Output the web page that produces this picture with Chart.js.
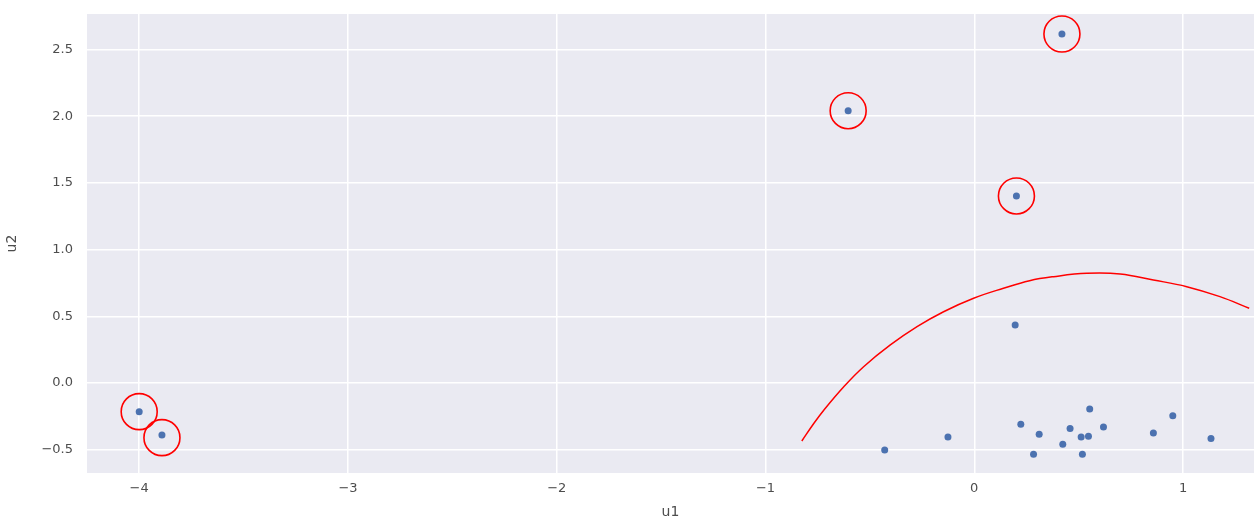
<!DOCTYPE html>
<html>
<head>
<meta charset="utf-8">
<script src="https://cdn.jsdelivr.net/npm/chart.js@4"></script>
<style>
  html, body { margin: 0; padding: 0; background: #fff; }
  #wrap { width: 1254px; height: 525px; }
</style>
</head>
<body>
<div id="wrap"><canvas id="chart"></canvas></div>
<script>
// Samples (u1, u2)
const pointsU1 = [-4.0, -3.891, -0.604, 0.202, 0.42, 0.196, -0.429, -0.126, 0.223, 0.311,
                  0.284, 0.424, 0.459, 0.512, 0.547, 0.518, 0.553, 0.619, 0.858, 0.951, 1.134];
const pointsU2 = [-0.215, -0.39, 2.041, 1.402, 2.616, 0.435, -0.502, -0.405, -0.31, -0.385,
                  -0.535, -0.46, -0.342, -0.405, -0.40, -0.535, -0.195, -0.33, -0.375, -0.245, -0.417];

// Flagged outliers (red rings)
const outlierU1 = [-4.0, -3.891, -0.604, 0.202, 0.42];
const outlierU2 = [-0.215, -0.41, 2.041, 1.402, 2.616];

// Decision boundary arc
const curveU1 = [-0.826, -0.768, -0.72, -0.625, -0.53, -0.402, -0.274, -0.147, -0.003, 0.14, 0.265,
                 0.38, 0.539, 0.699, 0.858, 1.018, 1.177, 1.317];
const curveU2 = [-0.435, -0.302, -0.202, -0.028, 0.122, 0.285, 0.422, 0.534, 0.635, 0.71, 0.767,
                 0.797, 0.822, 0.817, 0.772, 0.722, 0.647, 0.56];

const xTicks = [-4, -3, -2, -1, 0, 1];
const yTicks = [-0.5, 0.0, 0.5, 1.0, 1.5, 2.0, 2.5];

const TEXT = "#4d4d4d";
const FONT = "'DejaVu Sans', sans-serif";

const zip = (xs, ys) => xs.map((x, i) => ({ x, y: ys[i] }));
const minus = (s) => s.replace("-", "\u2212");

// seaborn-style panel background
const panelBg = {
  id: "panelBg",
  beforeDraw(chart) {
    const { ctx, chartArea: a } = chart;
    ctx.save();
    ctx.fillStyle = "#eaeaf2";
    ctx.fillRect(a.left, a.top, a.right - a.left, a.bottom - a.top);
    ctx.restore();
  },
};

new Chart(document.getElementById("chart"), {
  type: "scatter",
  data: {
    datasets: [
      {
        type: "line",
        data: zip(curveU1, curveU2),
        borderColor: "#ff0000",
        borderWidth: 1.5,
        pointRadius: 0,
        tension: 0.4,
        fill: false,
        order: 2,
      },
      {
        data: zip(pointsU1, pointsU2),
        backgroundColor: "#4c72b0",
        borderColor: "#4c72b0",
        borderWidth: 0,
        pointRadius: 3.5,
        order: 1,
      },
      {
        data: zip(outlierU1, outlierU2),
        backgroundColor: "rgba(0,0,0,0)",
        borderColor: "#ff0000",
        borderWidth: 1.6,
        pointRadius: 18,
        order: 0,
      },
    ],
  },
  plugins: [panelBg],
  options: {
    responsive: true,
    maintainAspectRatio: false,
    animation: false,
    // big ring markers would otherwise push the plot area inwards
    layout: { autoPadding: false, padding: { top: 14, right: 0, bottom: 0, left: 0 } },
    plugins: { legend: { display: false }, tooltip: { enabled: false } },
    scales: {
      x: {
        type: "linear",
        min: -4.25,
        max: 1.34,
        afterFit: (s) => { s.height = 52; s.paddingLeft = 0; s.paddingRight = 0; },
        afterBuildTicks: (s) => { s.ticks = xTicks.map((v) => ({ value: v })); },
        ticks: {
          color: TEXT,
          font: { family: FONT, size: 13 },
          padding: 8,
          callback: (v) => minus(String(v)),
        },
        grid: { color: "#ffffff", lineWidth: 1.5, drawTicks: false },
        border: { display: false },
        title: { display: true, text: "u1", color: TEXT, font: { family: FONT, size: 14 }, padding: { top: 2 } },
      },
      y: {
        type: "linear",
        min: -0.675,
        max: 2.766,
        afterFit: (s) => { s.width = 87; s.paddingTop = 0; s.paddingBottom = 0; },
        afterBuildTicks: (s) => { s.ticks = yTicks.map((v) => ({ value: v })); },
        ticks: {
          color: TEXT,
          font: { family: FONT, size: 13 },
          padding: 14,
          callback: (v) => minus(v.toFixed(1)),
        },
        grid: { color: "#ffffff", lineWidth: 1.5, drawTicks: false },
        border: { display: false },
        title: { display: true, text: "u2", color: TEXT, font: { family: FONT, size: 14 } },
      },
    },
  },
});
</script>
</body>
</html>
